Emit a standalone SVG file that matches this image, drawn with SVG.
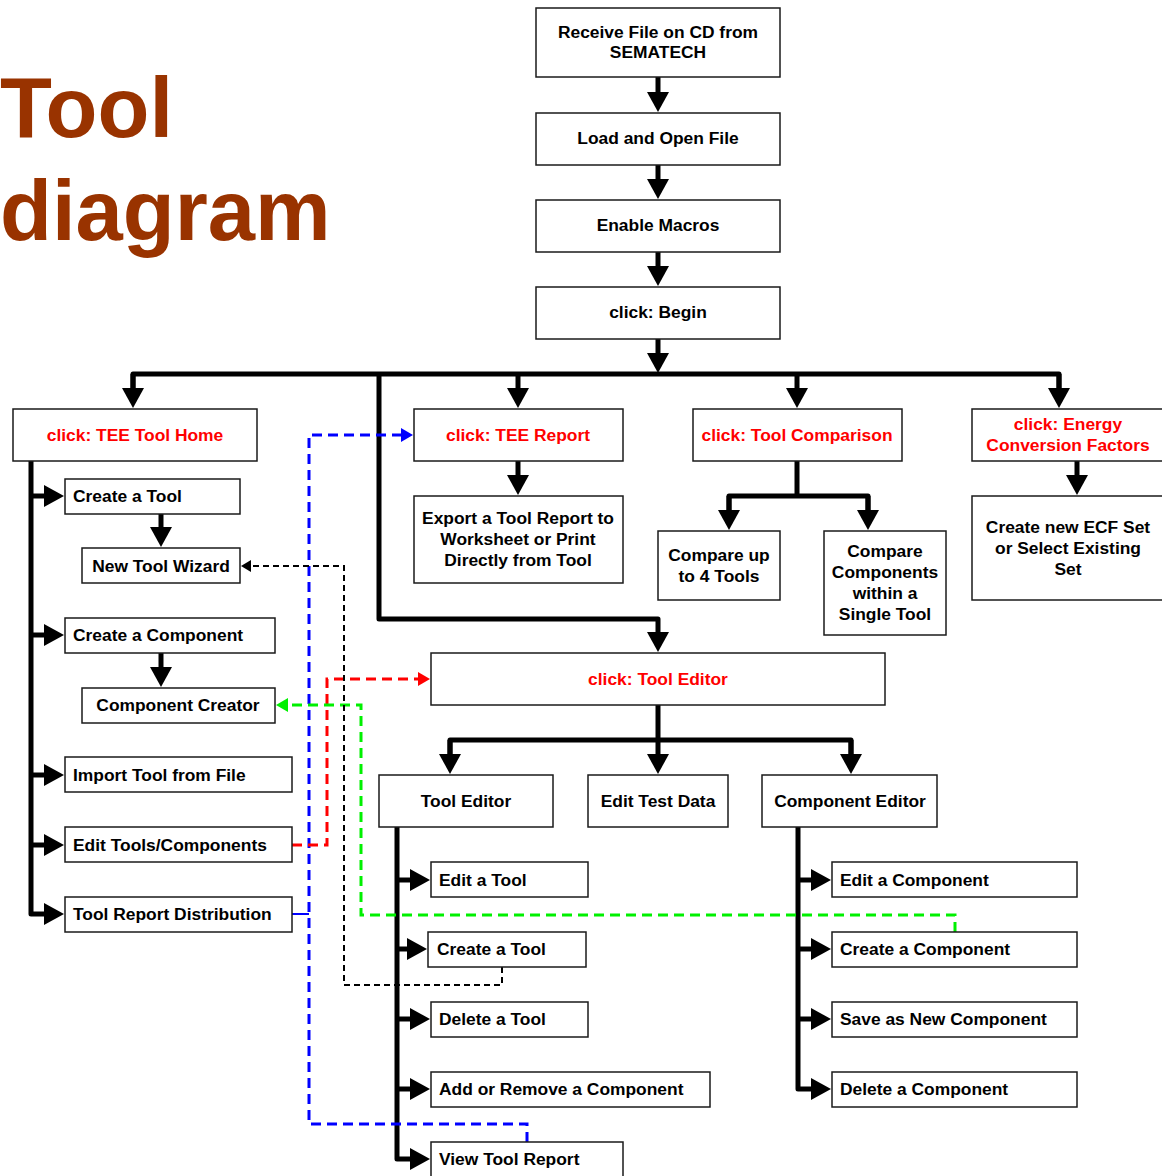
<svg xmlns="http://www.w3.org/2000/svg" width="1162" height="1176" viewBox="0 0 1162 1176">
<style>
.bg{fill:#fff}
.box{fill:#fff;stroke:#1a1a1a;stroke-width:1.5}
.t{font-family:"Liberation Sans",Arial,sans-serif;font-weight:bold;font-size:17.4px;fill:#000}
.red{fill:#ff0000}
.c{text-anchor:middle}
.title{font-family:"Liberation Sans",Arial,sans-serif;font-weight:bold;font-size:85px;fill:#993300}
.conn{stroke:#000;stroke-width:5;fill:none;stroke-linejoin:round;stroke-linecap:butt}
.ar{marker-end:url(#ah)}
.dash{fill:none;stroke-width:3;stroke-dasharray:10 6}
.blue{stroke:#0000ff;marker-end:url(#ab)}
.redl{stroke:#ff0000;marker-end:url(#ar)}
.green{stroke:#00f000;marker-end:url(#ag)}
.blk{fill:none;stroke:#000;stroke-width:2;stroke-dasharray:6 4;marker-end:url(#ak)}
</style>
<defs>
<marker id="ah" viewBox="0 0 20 22" refX="1" refY="11" markerWidth="20" markerHeight="22" orient="auto" markerUnits="userSpaceOnUse"><path d="M0,0 L20,11 L0,22 z" fill="#000"/></marker>
<marker id="ab" viewBox="0 0 12 14" refX="1" refY="7" markerWidth="12" markerHeight="14" orient="auto" markerUnits="userSpaceOnUse"><path d="M0,0 L12,7 L0,14 z" fill="#0000ff"/></marker>
<marker id="ar" viewBox="0 0 12 14" refX="1" refY="7" markerWidth="12" markerHeight="14" orient="auto" markerUnits="userSpaceOnUse"><path d="M0,0 L12,7 L0,14 z" fill="#ff0000"/></marker>
<marker id="ag" viewBox="0 0 12 14" refX="1" refY="7" markerWidth="12" markerHeight="14" orient="auto" markerUnits="userSpaceOnUse"><path d="M0,0 L12,7 L0,14 z" fill="#00f000"/></marker>
<marker id="ak" viewBox="0 0 10 12" refX="1" refY="6" markerWidth="10" markerHeight="12" orient="auto" markerUnits="userSpaceOnUse"><path d="M0,0 L10,6 L0,12 z" fill="#000"/></marker>
</defs>
<rect class="bg" x="0" y="0" width="1162" height="1176"/>

<g id="title">
<text class="title" x="0" y="137">Tool</text>
<text class="title" x="0" y="240">diagram</text>
</g>

<g id="connectors">
<path class="conn ar" d="M658,77 V93"/>
<path class="conn ar" d="M658,165 V180"/>
<path class="conn ar" d="M658,252 V267"/>
<path class="conn ar" d="M658,339 V354"/>
<path class="conn" d="M133,389 V374 H1059 V389"/>
<path class="conn ar" d="M133,374 V389"/>
<path class="conn ar" d="M518,374 V389"/>
<path class="conn ar" d="M797,374 V389"/>
<path class="conn ar" d="M1059,374 V389"/>
<path class="conn ar" d="M379,374 V619 H658 V633"/>
<path class="conn ar" d="M518,461 V476"/>
<path class="conn" d="M797,461 V496"/>
<path class="conn" d="M729,511 V496 H868 V511"/>
<path class="conn ar" d="M729,496 V511"/>
<path class="conn ar" d="M868,496 V511"/>
<path class="conn ar" d="M1077,461 V476"/>
<path class="conn ar" d="M31,461 V914 H45"/>
<path class="conn ar" d="M31,496 H45"/>
<path class="conn ar" d="M31,635 H45"/>
<path class="conn ar" d="M31,775 H45"/>
<path class="conn ar" d="M31,845 H45"/>
<path class="conn ar" d="M161,514 V528"/>
<path class="conn ar" d="M161,653 V668"/>
<path class="conn" d="M658,705 V740"/>
<path class="conn" d="M450,755 V740 H851 V755"/>
<path class="conn ar" d="M450,740 V755"/>
<path class="conn ar" d="M658,740 V755"/>
<path class="conn ar" d="M851,740 V755"/>
<path class="conn ar" d="M397,827 V1159 H411"/>
<path class="conn ar" d="M397,880 H411"/>
<path class="conn ar" d="M397,949 H408"/>
<path class="conn ar" d="M397,1019 H411"/>
<path class="conn ar" d="M397,1089 H411"/>
<path class="conn ar" d="M798,827 V1089 H812"/>
<path class="conn ar" d="M798,880 H812"/>
<path class="conn ar" d="M798,949 H812"/>
<path class="conn ar" d="M798,1019 H812"/>
<path d="M292,914 H309" stroke="#0000ff" stroke-width="2" fill="none"/>
<path class="dash blue" d="M527,1142 V1124 H309 V435 H402"/>
<path class="dash redl" d="M292,845 H327 V679 H419"/>
<path class="dash green" d="M955,932 V915 H361 V705 H287"/>
<path class="blk" d="M502,967 V985 H344 V566 H250"/>
</g>

<g id="n-receive"><rect class="box" x="536" y="8" width="244" height="69"/><text class="t c" x="658" y="38">Receive File on CD from</text><text class="t c" x="658" y="58">SEMATECH</text></g>
<g id="n-load"><rect class="box" x="536" y="113" width="244" height="52"/><text class="t c" x="658" y="144">Load and Open File</text></g>
<g id="n-macros"><rect class="box" x="536" y="200" width="244" height="52"/><text class="t c" x="658" y="231">Enable Macros</text></g>
<g id="n-begin"><rect class="box" x="536" y="287" width="244" height="52"/><text class="t c" x="658" y="318">click: Begin</text></g>

<g id="n-home"><rect class="box" x="13" y="409" width="244" height="52"/><text class="t c red" x="135" y="441">click: TEE Tool Home</text></g>
<g id="n-report"><rect class="box" x="414" y="409" width="209" height="52"/><text class="t c red" x="518" y="441">click: TEE Report</text></g>
<g id="n-comparison"><rect class="box" x="693" y="409" width="209" height="52"/><text class="t c red" x="797" y="441">click: Tool Comparison</text></g>
<g id="n-energy"><rect class="box" x="972" y="409" width="196" height="52"/><text class="t c red" x="1068" y="430">click: Energy</text><text class="t c red" x="1068" y="451">Conversion Factors</text></g>

<g id="n-export"><rect class="box" x="414" y="496" width="209" height="87"/><text class="t c" x="518" y="524">Export a Tool Report to</text><text class="t c" x="518" y="545">Worksheet or Print</text><text class="t c" x="518" y="566">Directly from Tool</text></g>
<g id="n-compare4"><rect class="box" x="658" y="531" width="122" height="69"/><text class="t c" x="719" y="561">Compare up</text><text class="t c" x="719" y="582">to 4 Tools</text></g>
<g id="n-comparecomp"><rect class="box" x="824" y="531" width="122" height="104"/><text class="t c" x="885" y="557">Compare</text><text class="t c" x="885" y="578">Components</text><text class="t c" x="885" y="599">within a</text><text class="t c" x="885" y="620">Single Tool</text></g>
<g id="n-ecf"><rect class="box" x="972" y="496" width="196" height="104"/><text class="t c" x="1068" y="533">Create new ECF Set</text><text class="t c" x="1068" y="554">or Select Existing</text><text class="t c" x="1068" y="575">Set</text></g>

<g id="n-createtool"><rect class="box" x="65" y="479" width="175" height="35"/><text class="t" x="73" y="502">Create a Tool</text></g>
<g id="n-wizard"><rect class="box" x="82" y="548" width="158" height="35"/><text class="t c" x="161" y="572">New Tool Wizard</text></g>
<g id="n-createcomp"><rect class="box" x="65" y="618" width="210" height="35"/><text class="t" x="73" y="641">Create a Component</text></g>
<g id="n-creator"><rect class="box" x="82" y="688" width="193" height="35"/><text class="t c" x="178" y="711">Component Creator</text></g>
<g id="n-import"><rect class="box" x="65" y="757" width="227" height="35"/><text class="t" x="73" y="781">Import Tool from File</text></g>
<g id="n-edittc"><rect class="box" x="65" y="827" width="227" height="35"/><text class="t" x="73" y="851">Edit Tools/Components</text></g>
<g id="n-distrib"><rect class="box" x="65" y="897" width="227" height="35"/><text class="t" x="73" y="920">Tool Report Distribution</text></g>

<g id="n-tooleditor-click"><rect class="box" x="431" y="653" width="454" height="52"/><text class="t c red" x="658" y="685">click: Tool Editor</text></g>
<g id="n-tooleditor"><rect class="box" x="379" y="775" width="174" height="52"/><text class="t c" x="466" y="807">Tool Editor</text></g>
<g id="n-testdata"><rect class="box" x="588" y="775" width="140" height="52"/><text class="t c" x="658" y="807">Edit Test Data</text></g>
<g id="n-compeditor"><rect class="box" x="762" y="775" width="175" height="52"/><text class="t c" x="850" y="807">Component Editor</text></g>

<g id="n-edittool"><rect class="box" x="431" y="862" width="157" height="35"/><text class="t" x="439" y="886">Edit a Tool</text></g>
<g id="n-createtool2"><rect class="box" x="428" y="932" width="158" height="35"/><text class="t" x="437" y="955">Create a Tool</text></g>
<g id="n-deletetool"><rect class="box" x="431" y="1002" width="157" height="35"/><text class="t" x="439" y="1025">Delete a Tool</text></g>
<g id="n-addremove"><rect class="box" x="431" y="1072" width="279" height="35"/><text class="t" x="439" y="1095">Add or Remove a Component</text></g>
<g id="n-viewreport"><rect class="box" x="431" y="1142" width="192" height="40"/><text class="t" x="439" y="1165">View Tool Report</text></g>

<g id="n-editcomp"><rect class="box" x="832" y="862" width="245" height="35"/><text class="t" x="840" y="886">Edit a Component</text></g>
<g id="n-createcomp2"><rect class="box" x="832" y="932" width="245" height="35"/><text class="t" x="840" y="955">Create a Component</text></g>
<g id="n-savecomp"><rect class="box" x="832" y="1002" width="245" height="35"/><text class="t" x="840" y="1025">Save as New Component</text></g>
<g id="n-deletecomp"><rect class="box" x="832" y="1072" width="245" height="35"/><text class="t" x="840" y="1095">Delete a Component</text></g>
</svg>
